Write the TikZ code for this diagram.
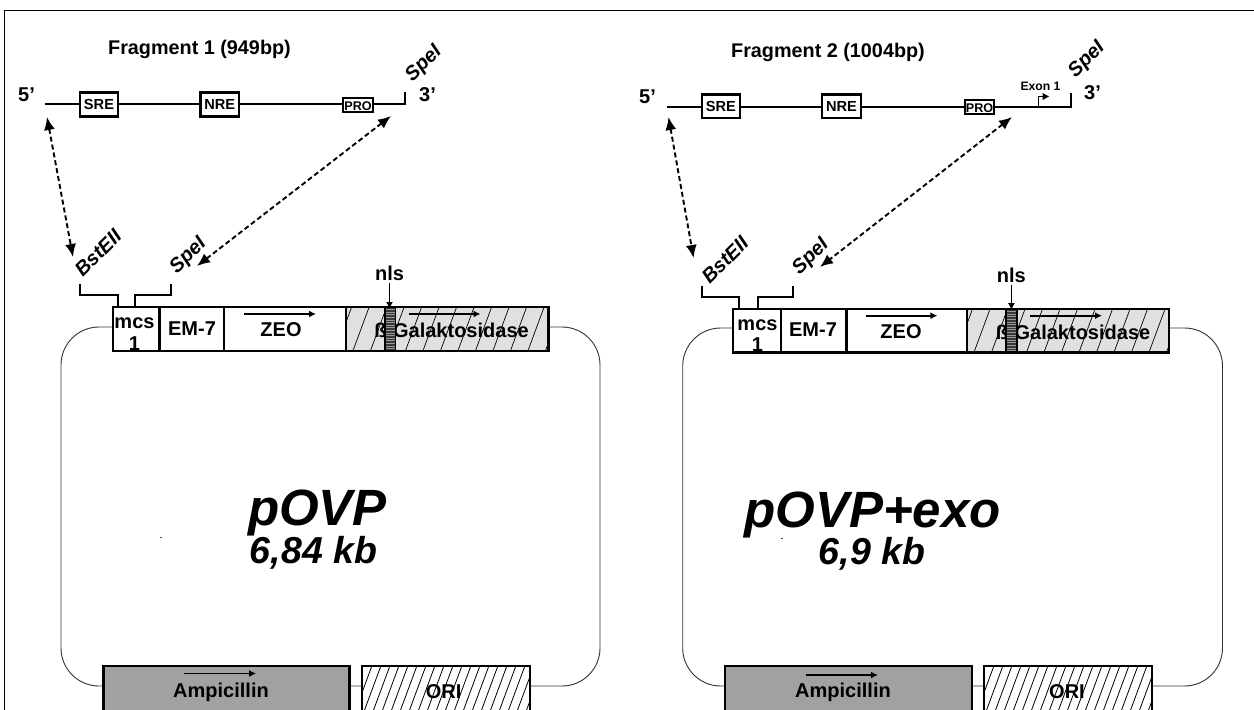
\documentclass[tikz,border=0pt]{standalone}
\usepackage{fontspec}
\setmainfont{Liberation Sans}
\usetikzlibrary{arrows.meta}
\newcommand{\apos}{{\char39}}
\tikzset{
  lbl/.style={inner sep=0pt,font=\fontsize{#1}{#1}\selectfont\bfseries,align=center},
  lbl/.default=20,
  ilbl/.style={inner sep=0pt,font=\fontsize{#1}{#1}\selectfont\bfseries\itshape},
  big/.style={ilbl=#1,anchor=base},
  cut/.style={ilbl=20,rotate=45},
  seg/.style={draw=black,line width=2.4pt,fill=white,inner sep=0pt,outer sep=0pt,rectangle},
  clear/.style={draw=black,line width=2.4pt,inner sep=0pt,outer sep=0pt,rectangle},
  loopline/.style={draw=black!80,line width=0.9pt,rounded corners=38pt,inner sep=0pt,rectangle},
  dna/.style={line width=2.3pt},
  dbl/.style={line width=1.9pt,dash pattern=on 5pt off 3pt,{Latex[length=13pt,width=11pt]}-{Latex[length=13pt,width=11pt]}},
  dir/.style={line width=1.8pt,-{Latex[length=7pt,width=7pt]}},
  brk/.style={line width=2pt}
}
\newcommand{\bx}[6]{\node[#1,minimum width={(#4)-(#2)},minimum height={(#5)-(#3)}] (#6) at ({((#2)+(#4))/2},{((#3)+(#5))/2}) {};}
\newcommand{\hatchlines}[6]{%
  \begin{scope}
    \clip (#1,#2) rectangle (#3,#4);
    \foreach \hx in {#1,#5,...,1300}{\draw[line width=#6] (\hx-0.185*#4+0.185*#2-20,#4) -- (\hx+0.185*#4-0.185*#2-20,#2);}
  \end{scope}}
\newcommand{\stripes}[4]{%
  \fill[black!78] (#1,#2) rectangle (#3,#4);
  \foreach \hi in {0,...,16}{\draw[black!40,line width=0.9pt] (#1,#2+\hi*2.6) -- (#3,#2+\hi*2.6);}}
\begin{document}
\begin{tikzpicture}[x=1pt,y=-1pt]
\useasboundingbox (0,0) rectangle (1254,710);
\clip (0,0) rectangle (1254,710);
\fill[white] (0,0) rectangle (1254,710);
% frame
\coordinate (fa) at (4.5,710);
\coordinate (fb) at (4.5,10.5);
\coordinate (fc) at (1254,10.5);
\draw[line width=1.2pt] (fa) -- (fb) -- (fc);

%%%%%%%%%%%%%%%% LEFT PANEL
\node[lbl=19.8] (t1) at (199.5,49.5) {Fragment 1 (949bp)};
\node[lbl] (p5a) at (26.5,95) {5\apos};
\node[lbl] (p3a) at (427.5,95) {3\apos};
\coordinate (la) at (45,104.3);
\coordinate (lb) at (405,104.3);
\coordinate (lc) at (405,92);
\draw[dna] (la) -- (lb) -- (lc);
\bx{seg}{80}{92.3}{118}{116.3}{srea}
\bx{seg}{200.5}{92.3}{239}{116.3}{nrea}
\bx{seg}{343}{98}{373}{111.7}{proa}
\node[lbl=14.6] at (srea) {SRE};
\node[lbl=14.6] at (nrea) {NRE};
\node[lbl=12.6] at (358,106) {PRO};
\node[cut] (s1a) at (424,64) {SpeI};
\coordinate (d1a) at (47,117);
\coordinate (d1b) at (73,257);
\coordinate (d2a) at (391,116);
\coordinate (d2b) at (197,266);
\draw[dbl] (d1a) -- (d1b);
\draw[dbl] (d2a) -- (d2b);
\node[cut] (bsta) at (98,253) {BstEII};
\node[cut] (s2a) at (188.5,256) {SpeI};
% loop
\bx{loopline}{61}{327}{600}{686}{loopa}
% brackets
\coordinate (b1a) at (80,284);\coordinate (b1b) at (80,295);\coordinate (b1c) at (117.5,295);\coordinate (b1d) at (117.5,307);
\coordinate (b2a) at (171,284);\coordinate (b2b) at (171,295);\coordinate (b2c) at (135,295);\coordinate (b2d) at (135,307);
\draw[brk] (b1a) -- (b1b) -- (b1c) -- (b1d);
\draw[brk] (b2a) -- (b2b) -- (b2c) -- (b2d);
% segments
\bx{seg}{112.7}{307}{159.4}{351}{mcsa}
\bx{seg}{159.4}{307}{224}{351}{ema}
\bx{seg}{224}{307}{346}{351}{zeoa}
\fill[black!12] (346,307) rectangle (548.4,351);
\hatchlines{346}{307}{548.4}{351}{363.5}{0.7pt}
\node[lbl] at (134.5,323) {mcs};
\node[lbl] at (134.5,343.5) {1};
\node[lbl] at (192,329) {EM-7};
\node[lbl] at (281,330) {ZEO};
\node[lbl] at (451.5,330) {ß-Galaktosidase};
\stripes{385}{307}{395.5}{351}
\draw[line width=1.8pt] (385,307) rectangle (395.5,351);
\bx{clear}{346}{307}{548.4}{351}{gala}
\coordinate (za1) at (244,314);\coordinate (za2) at (316,314);
\coordinate (ga1) at (408.5,314);\coordinate (ga2) at (480.5,314);
\draw[dir] (za1) -- (za2);
\draw[dir] (ga1) -- (ga2);
\node[lbl] (nlsa) at (389.5,273) {nls};
\coordinate (nta) at (389.5,309);
\draw[dir] (nlsa.south) ++(0,2) -- (nta);
% bottom
\bx{seg,fill=black!37}{103.6}{666}{349.6}{730}{ampa}
\bx{seg}{362}{666}{530}{730}{oria}
\hatchlines{362}{666}{530}{730}{371}{0.8pt}
\node[lbl] at (443.6,692) {ORI};
\bx{clear}{362}{666}{530}{730}{orib}
\node[lbl] at (221,692) {Ampicillin};
\coordinate (aa1) at (184,673.5);\coordinate (aa2) at (256,673.5);
\draw[dir] (aa1) -- (aa2);
\node[big=51] (na) at (317.5,525) {pOVP};
\node[big=37.5] (ka) at (313.5,563) {6,84 kb};
\fill[black!70] (160,537) rectangle +(1.5,1.2);

%%%%%%%%%%%%%%%% RIGHT PANEL
\node[lbl=19.8] (t2) at (828,52.5) {Fragment 2 (1004bp)};
\node[lbl] (p5b) at (647.5,97) {5\apos};
\node[lbl] (p3b) at (1092.5,92.7) {3\apos};
\coordinate (lba) at (666.5,106.7);
\coordinate (lbb) at (1071,106.7);
\coordinate (lbc) at (1071,92.7);
\draw[dna] (lba) -- (lbb) -- (lbc);
\bx{seg}{702}{94.3}{739.7}{117.7}{sreb}
\bx{seg}{822}{94.3}{861}{117.7}{nreb}
\bx{seg}{965}{99.7}{994}{113.7}{prob}
\node[lbl=14.6] at (sreb) {SRE};
\node[lbl=14.6] at (nreb) {NRE};
\node[lbl=12.6] at (979.5,108.5) {PRO};
\node[lbl=12.2] (exon) at (1040.5,86) {Exon 1};
\coordinate (ex1) at (1038.5,106.7);\coordinate (ex2) at (1038.5,96.5);\coordinate (ex3) at (1049.5,96.5);
\draw[line width=1.5pt,-{Latex[length=7pt,width=8pt]}] (ex1) -- (ex2) -- (ex3);
\node[cut] (s1b) at (1087,60) {SpeI};
\coordinate (e1a) at (668.5,117);
\coordinate (e1b) at (693.6,258);
\coordinate (e2a) at (1012,117);
\coordinate (e2b) at (820,267);
\draw[dbl] (e1a) -- (e1b);
\draw[dbl] (e2a) -- (e2b);
\node[cut] (bstb) at (725,260) {BstEII};
\node[cut] (s2b) at (811,257) {SpeI};
\bx{loopline}{682.7}{328}{1222.5}{686}{loopb}
\coordinate (c1a) at (701.7,286);\coordinate (c1b) at (701.7,296.7);\coordinate (c1c) at (738.5,296.7);\coordinate (c1d) at (738.5,309);
\coordinate (c2a) at (793,286);\coordinate (c2b) at (793,296.7);\coordinate (c2c) at (757.5,296.7);\coordinate (c2d) at (757.5,309);
\draw[brk] (c1a) -- (c1b) -- (c1c) -- (c1d);
\draw[brk] (c2a) -- (c2b) -- (c2c) -- (c2d);
\bx{seg}{733}{309}{781}{352.3}{mcsb}
\bx{seg}{781}{309}{846.5}{352.3}{emb}
\bx{seg}{846.5}{309}{967}{352.3}{zeob}
\fill[black!12] (967,309) rectangle (1169,352.3);
\hatchlines{967}{309}{1169}{352.3}{984.5}{0.7pt}
\node[lbl] at (757.5,325) {mcs};
\node[lbl] at (757.5,344.5) {1};
\node[lbl] at (813,330) {EM-7};
\node[lbl] at (901,332) {ZEO};
\node[lbl] at (1073,332) {ß-Galaktosidase};
\stripes{1006}{309}{1017}{352.3}
\draw[line width=1.8pt] (1006,309) rectangle (1017,352.3);
\bx{clear}{967}{309}{1169}{352.3}{galb}
\coordinate (zb1) at (865.5,315.7);\coordinate (zb2) at (937.4,315.7);
\coordinate (gb1) at (1030.4,315.7);\coordinate (gb2) at (1102,315.7);
\draw[dir] (zb1) -- (zb2);
\draw[dir] (gb1) -- (gb2);
\node[lbl] (nlsb) at (1011.4,275) {nls};
\coordinate (ntb) at (1011.4,310);
\draw[line width=1pt,-{Latex[length=7pt,width=7pt]}] (nlsb.south) ++(0,2) -- (ntb);
\bx{seg,fill=black!37}{725}{666}{972}{730}{ampb}
\bx{seg}{984}{666}{1152}{730}{orid}
\hatchlines{984}{666}{1152}{730}{993}{0.8pt}
\node[lbl] at (1067,692) {ORI};
\bx{clear}{984}{666}{1152}{730}{orie}
\node[lbl] at (843,692) {Ampicillin};
\coordinate (ab1) at (806,675);\coordinate (ab2) at (878,675);
\draw[dir] (ab1) -- (ab2);
\node[big=51] (nb) at (872.5,527) {pOVP+exo};
\node[big=37.5] (kb) at (872,564) {6,9 kb};
\fill[black!70] (781,538) rectangle +(2,1);
\end{tikzpicture}
\end{document}
